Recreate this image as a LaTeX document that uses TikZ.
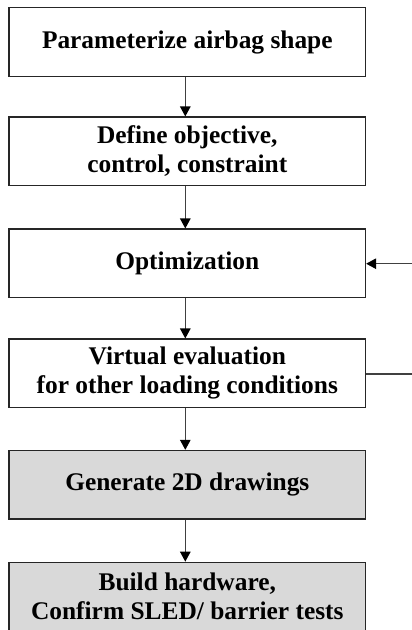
\documentclass[tikz,border=0pt]{standalone}
\usepackage{fontspec}
\setmainfont{Liberation Serif}
\usetikzlibrary{arrows.meta}
\definecolor{boxgray}{HTML}{D9D9D9}
\definecolor{linegray}{HTML}{404040}
\tikzset{
  stepbox/.style={draw=black!85, line width=1.2pt, minimum width=356.5pt, minimum height=68.5pt,
    inner sep=0pt, align=center, font=\fontsize{25.4}{29}\selectfont\bfseries},
  shaded/.style={fill=boxgray},
  flow/.style={draw=linegray, line width=1.2pt, -{Triangle[length=10pt,width=10.5pt,color=black]}},
  plainline/.style={draw=linegray, line width=1.2pt}
}
\begin{document}
\begin{tikzpicture}[x=1pt,y=1pt]
\useasboundingbox (0,0) rectangle (412,-630);
\node[stepbox] (b1) at (187.3,-42) {Parameterize airbag shape};
\node[stepbox] (b2) at (187.3,-151.3) {Define objective,\\control, constraint};
\node[stepbox] (b3) at (187.3,-263.3) {Optimization};
\node[stepbox] (b4) at (187.3,-373.3) {Virtual evaluation\\for other loading conditions};
\node[stepbox,shaded] (b5) at (187.3,-484.7) {Generate 2D drawings};
\node[stepbox,shaded] (b6) at (187.3,-596.5) {Build hardware,\\Confirm SLED/ barrier tests};
\draw[flow] ([xshift=-2pt]b1.south) -- ([xshift=-2pt]b2.north);
\draw[flow] ([xshift=-2pt]b2.south) -- ([xshift=-2pt]b3.north);
\draw[flow] ([xshift=-2pt]b3.south) -- ([xshift=-2pt]b4.north);
\draw[flow] ([xshift=-2pt]b4.south) -- ([xshift=-2pt]b5.north);
\draw[flow] ([xshift=-2pt]b5.south) -- ([xshift=-2pt]b6.north);
\coordinate (fin) at (412,-263.7);
\coordinate (fout) at (412,-374);
\draw[flow] (fin) -- (b3.east |- fin);
\draw[plainline] (b4.east |- fout) -- (fout);
\end{tikzpicture}
\end{document}
